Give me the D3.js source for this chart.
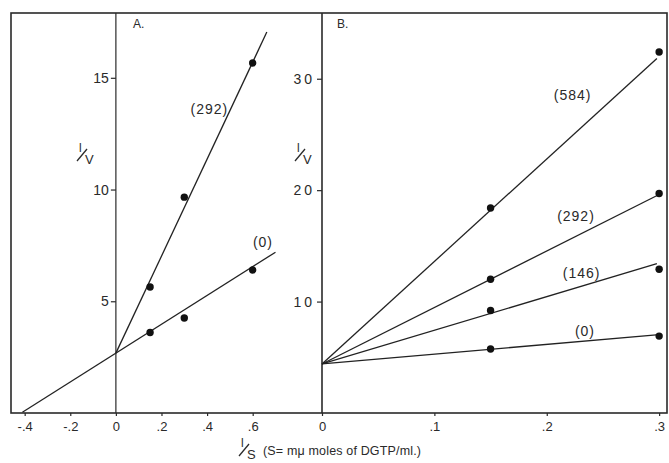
<!DOCTYPE html>
<html lang="en">
<head>
  <meta charset="UTF-8">
  <title>Lineweaver-Burk plots</title>
  <script src="https://d3js.org/d3.v7.min.js"></script>
  <style>
    body { margin: 0; background: #fff; }
    text { font-family: "Liberation Sans", "DejaVu Sans", sans-serif; fill: #2a2a2a; }
    .frame { fill: none; stroke: #2a2a2a; stroke-width: 1.6px; }
    .fit { stroke: #222; stroke-width: 1.3px; }
  </style>
</head>
<body>
  <div id="chart"></div>
  <script>
    // Panel A: 1/S values and 1/V for each inhibitor level
    const xA = [0.15, 0.3, 0.6];
    const a0 = [3.6, 4.25, 6.4];
    const a292 = [5.64, 9.66, 15.66];
    // fitted lines [intercept, slope, xStart, xEnd]
    const fitA0 = [2.68, 6.45, -0.41, 0.7];
    const fitA292 = [2.68, 21.7, 0, 0.662];

    // Panel B
    const xB = [0.15, 0.3];
    const b0 = [5.75, 6.9];
    const b146 = [9.2, 12.9];
    const b292 = [12.0, 19.7];
    const b584 = [18.4, 32.4];
    const fitB0 = [4.4, 8.8, 0, 0.3];
    const fitB146 = [4.4, 30.2, 0, 0.298];
    const fitB292 = [4.4, 50.7, 0, 0.3];
    const fitB584 = [4.4, 92, 0, 0.298];

    const ticksAx = [-0.4, -0.2, 0, 0.2, 0.4, 0.6];
    const ticksAy = [5, 10, 15];
    const ticksBx = [0, 0.1, 0.2, 0.3];
    const ticksBy = [10, 20, 30];

    const W = 669, H = 463;
    const fTop = 13, fBottom = 413, fLeft = 11, fMid = 322, fRight = 667;

    const svg = d3.select("#chart").append("svg")
      .attr("width", W).attr("height", H);

    const xa = d3.scaleLinear().domain([-0.46, 0.904]).range([fLeft, fMid]);
    const ya = d3.scaleLinear().domain([0, 17.9]).range([fBottom, fTop]);
    const xb = d3.scaleLinear().domain([0, 0.307]).range([fMid, fRight]);
    const yb = d3.scaleLinear().domain([0, 35.9]).range([fBottom, fTop]);

    // outer frame and panel divider
    svg.append("rect").attr("class", "frame")
      .attr("x", fLeft).attr("y", fTop).attr("width", fRight - fLeft).attr("height", fBottom - fTop);
    svg.append("line").attr("class", "frame")
      .attr("x1", fMid).attr("x2", fMid).attr("y1", fTop).attr("y2", fBottom);
    // panel A y axis at x = 0
    svg.append("line").attr("class", "frame").style("stroke-width", "1.2px")
      .attr("x1", xa(0)).attr("x2", xa(0)).attr("y1", fTop).attr("y2", fBottom);

    function drawAxes(x, y, xt, yt, xfmt, spacing) {
      const gx = svg.append("g").attr("transform", `translate(0,${fBottom})`)
        .call(d3.axisBottom(x).tickValues(xt).tickSize(3).tickPadding(6).tickFormat(xfmt));
      gx.select(".domain").remove();
      gx.selectAll("text").style("font-size", "13px");
      const gy = svg.append("g").attr("transform", `translate(${x(0)},0)`)
        .call(d3.axisLeft(y).tickValues(yt).tickSize(5).tickPadding(2));
      gy.select(".domain").remove();
      gy.selectAll("text").style("font-size", "14px").style("letter-spacing", spacing);
      svg.selectAll(".tick line").attr("stroke", "#2a2a2a").attr("stroke-width", 1.2);
    }

    // old-style labels: "-.4", ".2", "0"
    const fmtDot = d => d === 0 ? "0" : d.toFixed(1).replace("0.", ".");
    drawAxes(xa, ya, ticksAx, ticksAy, fmtDot, "0px");
    drawAxes(xb, yb, ticksBx, ticksBy, fmtDot, "3px");

    function drawFit(x, y, f) {
      svg.append("line").attr("class", "fit")
        .attr("x1", x(f[2])).attr("y1", y(f[0] + f[1] * f[2]))
        .attr("x2", x(f[3])).attr("y2", y(f[0] + f[1] * f[3]));
    }
    function drawPts(x, y, xs, ys) {
      svg.append("g").selectAll("circle").data(xs).join("circle")
        .attr("cx", d => x(d)).attr("cy", (d, i) => y(ys[i]))
        .attr("r", 3.7).attr("fill", "#111");
    }

    drawFit(xa, ya, fitA0); drawFit(xa, ya, fitA292);
    drawPts(xa, ya, xA, a0); drawPts(xa, ya, xA, a292);
    [fitB0, fitB146, fitB292, fitB584].forEach(f => drawFit(xb, yb, f));
    [b0, b146, b292, b584].forEach(v => drawPts(xb, yb, xB, v));

    // series labels
    const lab = (x, y, t) => svg.append("text").attr("x", x).attr("y", y)
      .attr("text-anchor", "middle").style("font-size", "14px").style("letter-spacing", "1px").text(t);
    lab(xa(0.41), ya(13.4), "(292)");
    lab(xa(0.645), ya(7.45), "(0)");
    lab(xb(0.223), yb(28.1), "(584)");
    lab(xb(0.226), yb(17.2), "(292)");
    lab(xb(0.231), yb(12.1), "(146)");
    lab(xb(0.234), yb(6.9), "(0)");

    svg.append("text").attr("x", 133).attr("y", 28).style("font-size", "12px").text("A.");
    svg.append("text").attr("x", 337).attr("y", 28).style("font-size", "12px").text("B.");

    // 1/V style fraction labels
    function frac(x, y, den) {
      const g = svg.append("g").attr("transform", `translate(${x},${y})`);
      g.append("text").attr("x", -5).attr("y", -1).style("font-size", "12px").text("l");
      g.append("line").attr("x1", -7).attr("y1", 8).attr("x2", 3).attr("y2", -4)
        .attr("stroke", "#2a2a2a").attr("stroke-width", 1.3);
      g.append("text").attr("x", 1).attr("y", 11).style("font-size", "13px").text(den);
      return g;
    }
    frac(84, 153, "V");
    frac(302, 153, "V");
    frac(246, 448, "S");
    svg.append("text").attr("x", 263).attr("y", 455).style("font-size", "12.5px")
      .attr("textLength", 158).attr("lengthAdjust", "spacing")
      .text("(S= m\u03bc moles of DGTP/ml.)");
  </script>
</body>
</html>
